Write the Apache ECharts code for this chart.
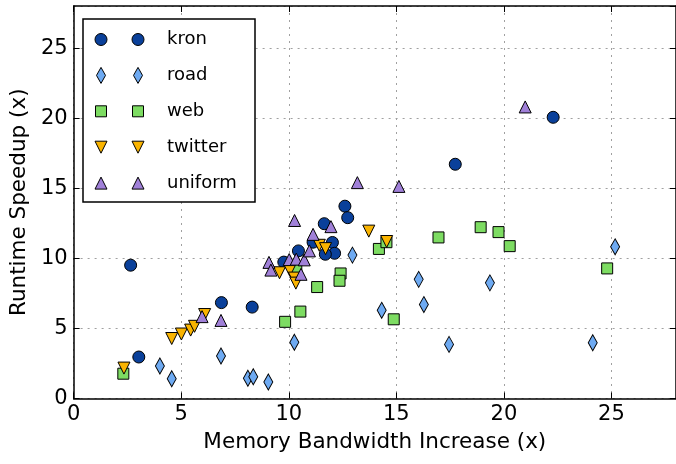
<!DOCTYPE html>
<html>
<head>
<meta charset="utf-8">
<script src="https://cdn.jsdelivr.net/npm/echarts@6/dist/echarts.min.js"></script>
<style>
  html, body { margin: 0; padding: 0; background: #fff; }
  #chart { width: 676px; height: 464px; }
</style>
</head>
<body>
<div id="chart"></div>
<script>
// Speedup vs. memory bandwidth increase, one series per input graph
const seriesNames = ['kron', 'road', 'web', 'twitter', 'uniform'];

const kronX = [2.65, 3.03, 6.87, 8.30, 9.77, 10.45, 11.13, 11.65, 12.61, 12.74, 12.03, 12.13, 11.70, 17.74, 22.29];
const kronY = [9.51, 2.96, 6.84, 6.52, 9.73, 10.53, 11.15, 12.47, 13.72, 12.90, 11.13, 10.36, 10.29, 16.71, 20.06];

const roadX = [4.01, 4.56, 6.85, 8.10, 8.35, 9.05, 10.26, 12.96, 14.32, 16.04, 16.28, 17.45, 19.35, 24.13, 25.17];
const roadY = [2.32, 1.41, 3.03, 1.44, 1.55, 1.18, 4.01, 10.23, 6.29, 8.50, 6.70, 3.86, 8.25, 3.98, 10.82];

const webX = [2.31, 9.83, 10.54, 11.32, 12.41, 12.36, 14.19, 14.54, 14.88, 16.96, 18.92, 19.75, 20.27, 24.80, 10.35];
const webY = [1.77, 5.47, 6.20, 7.95, 8.92, 8.40, 10.67, 11.15, 5.65, 11.49, 12.22, 11.87, 10.87, 9.28, 9.37];

const twitterX = [2.34, 4.56, 5.01, 5.44, 5.62, 6.09, 9.57, 10.05, 10.26, 10.33, 11.42, 11.71, 13.72, 14.55];
const twitterY = [2.17, 4.28, 4.60, 4.88, 5.15, 5.99, 8.97, 9.14, 8.59, 8.23, 10.93, 10.69, 11.94, 11.20];

const uniformX = [5.97, 6.85, 9.08, 9.17, 10.02, 10.35, 10.72, 10.57, 10.27, 10.96, 11.13, 11.96, 13.19, 15.12, 20.99];
const uniformY = [5.84, 5.57, 9.71, 9.16, 9.91, 9.94, 9.89, 8.86, 12.70, 10.53, 11.71, 12.26, 15.40, 15.13, 20.80];

const xTicks = [0, 5, 10, 15, 20, 25];
const yTicks = [0, 5, 10, 15, 20, 25];

const xTitle = 'Memory Bandwidth Increase (x)';
const yTitle = 'Runtime Speedup (x)';

// Marker styling per series
const markerStyles = [
  { symbol: 'circle',   size: 12,       rotate: 0,   color: '#0a409a' },
  { symbol: 'diamond',  size: [9, 16],  rotate: 0,   color: '#6eaaf2' },
  { symbol: 'rect',     size: 11,       rotate: 0,   color: '#7ddc62' },
  { symbol: 'triangle', size: 12,       rotate: 180, color: '#fab400' },
  { symbol: 'triangle', size: 12,       rotate: 0,   color: '#a080d8' }
];

const allX = [kronX, roadX, webX, twitterX, uniformX];
const allY = [kronY, roadY, webY, twitterY, uniformY];

const FONT = 'DejaVu Sans';
const AX_MIN = 0, AX_MAX = 28, STEP = 5;

function tickFmt(list) {
  return function (v) { return list.indexOf(v) >= 0 ? String(v) : ''; };
}

const baseAxis = {
  type: 'value',
  min: AX_MIN,
  max: AX_MAX,
  interval: STEP,
  axisLine: { show: true, onZero: false, lineStyle: { color: '#000', width: 1.5 } },
  axisTick: { show: true, inside: true, length: 6, lineStyle: { color: '#000', width: 1 } }
};

const gridLine = { show: true, lineStyle: { color: '#a0a0a0', width: 1, type: [2, 5] } };

const xBottom = Object.assign({}, baseAxis, {
  position: 'bottom',
  name: xTitle,
  nameLocation: 'middle',
  nameGap: 33,
  nameTextStyle: { fontFamily: FONT, fontSize: 21.5, color: '#000' },
  axisLabel: { margin: 6, fontFamily: FONT, fontSize: 21, color: '#000', formatter: tickFmt(xTicks), showMaxLabel: false },
  splitLine: gridLine
});
const xTop = Object.assign({}, baseAxis, {
  position: 'top',
  axisLabel: { show: false },
  splitLine: { show: false }
});
const yLeft = Object.assign({}, baseAxis, {
  position: 'left',
  name: yTitle,
  nameLocation: 'middle',
  nameGap: 41,
  nameTextStyle: { fontFamily: FONT, fontSize: 21.5, color: '#000' },
  axisLabel: { margin: 6, fontFamily: FONT, fontSize: 21, color: '#000', formatter: tickFmt(yTicks), showMaxLabel: false },
  splitLine: gridLine
});
const yRight = Object.assign({}, baseAxis, {
  position: 'right',
  axisLabel: { show: false },
  splitLine: { show: false }
});

const series = seriesNames.map(function (name, i) {
  const st = markerStyles[i];
  return {
    name: name,
    type: 'scatter',
    xAxisIndex: 0,
    yAxisIndex: 0,
    symbol: st.symbol,
    symbolSize: st.size,
    symbolRotate: st.rotate,
    itemStyle: { color: st.color, borderColor: '#000', borderWidth: 1, opacity: 1 },
    emphasis: { disabled: true },
    data: allX[i].map(function (x, k) { return [x, allY[i][k]]; })
  };
});

// Legend box with two sample markers per entry
function legendMarker(i, cx, cy) {
  const st = markerStyles[i];
  const style = { fill: st.color, stroke: '#000', lineWidth: 1 };
  if (st.symbol === 'circle') {
    return { type: 'circle', shape: { cx: cx, cy: cy, r: 6 }, style: style };
  }
  if (st.symbol === 'rect') {
    return { type: 'rect', shape: { x: cx - 5.5, y: cy - 5.5, width: 11, height: 11 }, style: style };
  }
  if (st.symbol === 'diamond') {
    return { type: 'polygon', shape: { points: [[cx, cy - 8], [cx + 4.5, cy], [cx, cy + 8], [cx - 4.5, cy]] }, style: style };
  }
  if (st.rotate === 180) {
    return { type: 'polygon', shape: { points: [[cx, cy + 6], [cx + 6, cy - 6], [cx - 6, cy - 6]] }, style: style };
  }
  return { type: 'polygon', shape: { points: [[cx, cy - 6], [cx + 6, cy + 6], [cx - 6, cy + 6]] }, style: style };
}

const legendBox = { x: 83, y: 19, w: 172, h: 183 };
const legendEls = [{
  type: 'rect',
  shape: { x: legendBox.x, y: legendBox.y, width: legendBox.w, height: legendBox.h },
  style: { fill: '#fff', stroke: '#000', lineWidth: 1.5 },
  z: 100
}];
seriesNames.forEach(function (name, i) {
  const cy = 39.5 + 35.9 * i;
  const m1 = legendMarker(i, 101, cy); m1.z = 101;
  const m2 = legendMarker(i, 138, cy); m2.z = 101;
  legendEls.push(m1, m2, {
    type: 'text',
    x: 167, y: cy,
    style: { text: name, fontFamily: FONT, fontSize: 18, fill: '#000', verticalAlign: 'middle', align: 'left' },
    z: 101
  });
});

const chart = echarts.init(document.getElementById('chart'), null, { renderer: 'canvas' });
chart.setOption({
  animation: false,
  backgroundColor: '#fff',
  grid: { left: 70, top: 6, right: -3, bottom: 65.5, containLabel: false },
  xAxis: [xBottom, xTop],
  yAxis: [yLeft, yRight],
  series: series,
  graphic: legendEls
});
</script>
</body>
</html>
